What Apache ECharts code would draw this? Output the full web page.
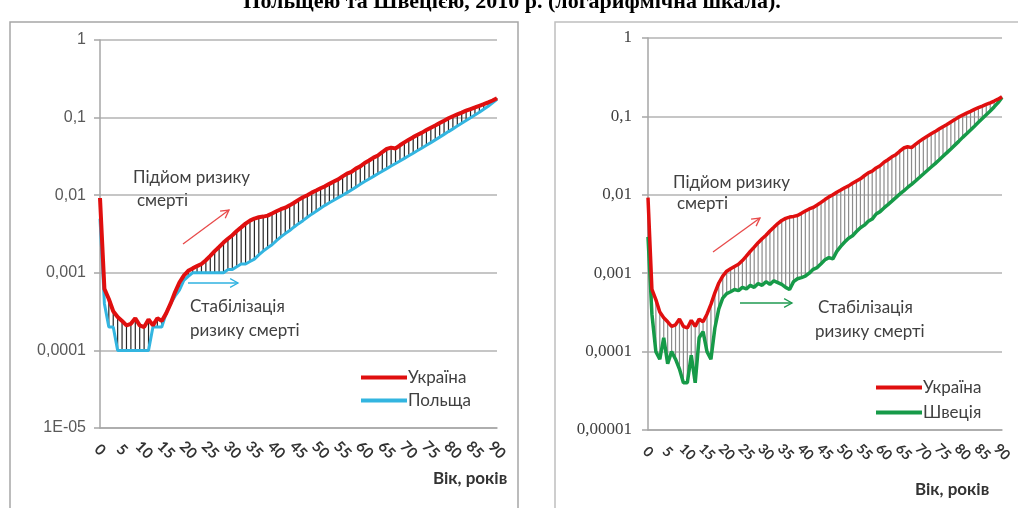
<!DOCTYPE html>
<html>
<head>
<meta charset="utf-8">
<script src="https://cdn.jsdelivr.net/npm/echarts@6/dist/echarts.min.js"></script>
<style>
  html, body { margin: 0; padding: 0; background: #fff; }
  #chart { width: 1018px; height: 508px; }
</style>
</head>
<body>
<div id="chart"></div>
<script>
// вік 0..90
var ages = []
for (var a = 0; a <= 90; a++) ages.push(String(a))

var ukraine = [
  0.0092, 0.00062, 0.00046, 0.00032, 0.00027, 0.00024, 0.00021, 0.00022, 0.00026, 0.00021,
  0.00020, 0.00025, 0.00021, 0.00026, 0.00024, 0.00030, 0.00040, 0.00056, 0.00075, 0.00092,
  0.00106, 0.00114, 0.00122, 0.00130, 0.00145, 0.00165, 0.00190, 0.00215, 0.00245, 0.00275,
  0.00305, 0.00345, 0.00385, 0.00430, 0.00470, 0.00500, 0.00520, 0.00530, 0.00545, 0.00580,
  0.0062, 0.0066, 0.0069, 0.0074, 0.0080, 0.0087, 0.0094, 0.0100, 0.0108, 0.0115,
  0.0123, 0.0130, 0.0140, 0.0150, 0.0160, 0.0175, 0.0190, 0.0200, 0.0220, 0.0235,
  0.0260, 0.0280, 0.0305, 0.0325, 0.0360, 0.0395, 0.0410, 0.0400, 0.0440, 0.0480,
  0.052, 0.056, 0.060, 0.064, 0.069, 0.074, 0.079, 0.085, 0.091, 0.098,
  0.104, 0.110, 0.116, 0.123, 0.129, 0.135, 0.142, 0.149, 0.157, 0.166,
  0.178
]

var poland = [
  0.0050, 0.0004, 0.0002, 0.0002, 0.0001, 0.0001, 0.0001, 0.0001, 0.0001, 0.0001,
  0.0001, 0.0001, 0.0002, 0.0002, 0.0002, 0.0003, 0.0004, 0.0005, 0.0006, 0.0008,
  0.0009, 0.0010, 0.0010, 0.0010, 0.0010, 0.0010, 0.0010, 0.0010, 0.0010, 0.0011,
  0.0011, 0.0012, 0.0013, 0.0013, 0.0014, 0.0015, 0.0017, 0.0019, 0.0021, 0.0023,
  0.0026, 0.0029, 0.0032, 0.0035, 0.0039, 0.0043, 0.0047, 0.0052, 0.0057, 0.0062,
  0.0068, 0.0074, 0.0080, 0.0086, 0.0093, 0.0100, 0.0108, 0.0117, 0.0127, 0.0138,
  0.0150, 0.0162, 0.0175, 0.0189, 0.0204, 0.0220, 0.0238, 0.0256, 0.0276, 0.0298,
  0.0322, 0.0348, 0.0376, 0.0406, 0.0440, 0.0476, 0.0516, 0.0560, 0.0608, 0.0660,
  0.0716, 0.0778, 0.0845, 0.0918, 0.0997, 0.108, 0.117, 0.128, 0.140, 0.155,
  0.172
]

var sweden = [
  0.0029, 0.00030, 0.00010, 0.00008, 0.00015, 0.00007, 0.00010, 0.00008, 0.00006, 0.00004,
  0.00004, 0.00009, 0.00004, 0.00015, 0.00018, 0.00010, 0.00008, 0.00020, 0.00035, 0.00048,
  0.00055, 0.00058, 0.00062, 0.00060, 0.00066, 0.00063, 0.00070, 0.00066, 0.00074, 0.00070,
  0.00078, 0.00072, 0.00080, 0.00076, 0.00072, 0.00066, 0.00062, 0.00078, 0.00085, 0.00088,
  0.00092, 0.00100, 0.00112, 0.00118, 0.00132, 0.00148, 0.00158, 0.00152, 0.00190, 0.00220,
  0.0025, 0.0028, 0.0030, 0.0034, 0.0038, 0.0041, 0.0046, 0.0049, 0.0057, 0.0061,
  0.0068, 0.0075, 0.0083, 0.0092, 0.0102, 0.0112, 0.0124, 0.0136, 0.0150, 0.0166,
  0.0184, 0.0204, 0.0226, 0.0250, 0.0278, 0.0310, 0.0345, 0.0385, 0.0430, 0.0480,
  0.054, 0.060, 0.067, 0.075, 0.084, 0.094, 0.105, 0.117, 0.132, 0.150,
  0.175
]

var leftTicks = ['1E-05', '0,0001', '0,001', '0,01', '0,1', '1']
var rightTicks = ['0,00001', '0,0001', '0,001', '0,01', '0,1', '1']

var chart = echarts.init(document.getElementById('chart'))

function tickLabel(list) {
  return function (v) {
    var i = Math.round(Math.log(v) / Math.LN10) + 5
    return list[i] || ''
  }
}

// вертикальні лінії між двома кривими
function hiLo(color) {
  return function (params, api) {
    var p1 = api.coord([api.value(0), api.value(1)])
    var p2 = api.coord([api.value(0), api.value(2)])
    return {
      type: 'line',
      shape: { x1: p1[0], y1: p1[1], x2: p2[0], y2: p2[1] },
      style: { stroke: color, lineWidth: 1.2 }
    }
  }
}

function pairs(a, b) {
  return a.map(function (v, i) {
    return [i, Math.min(v, b[i]), Math.max(v, b[i])]
  })
}

function arrow(x1, y1, x2, y2, color) {
  var ang = Math.atan2(y2 - y1, x2 - x1)
  var len = 9
  var h1 = [x2 - len * Math.cos(ang - 0.5), y2 - len * Math.sin(ang - 0.5)]
  var h2 = [x2 - len * Math.cos(ang + 0.5), y2 - len * Math.sin(ang + 0.5)]
  return [
    { type: 'line', shape: { x1: x1, y1: y1, x2: x2, y2: y2 }, style: { stroke: color, lineWidth: 1.3 } },
    { type: 'polyline', shape: { points: [h1, [x2, y2], h2] }, style: { stroke: color, lineWidth: 1.3, fill: null } }
  ]
}

function label(x, y, text) {
  return {
    type: 'text',
    x: x,
    y: y,
    style: {
      text: text,
      font: '17px Lato',
      fill: '#404040',
      verticalAlign: 'middle'
    }
  }
}

function xAxisFor(grid, size) {
  return {
    gridIndex: grid,
    type: 'category',
    data: ages,
    boundaryGap: false,
    axisLine: { lineStyle: { color: '#a6a6a6', width: 1.5 } },
    axisTick: { show: false },
    splitLine: { show: false },
    axisLabel: {
      interval: 4,
      rotate: -45,
      align: 'center',
      verticalAlign: 'middle',
      margin: 22,
      showMaxLabel: true,
      hideOverlap: false,
      color: '#333',
      fontWeight: 'bold',
      fontSize: size,
      fontFamily: 'Lato'
    }
  }
}

var yAxisBase = {
  type: 'log',
  logBase: 10,
  min: 0.00001,
  max: 1,
  axisLine: { show: true, lineStyle: { color: '#a6a6a6', width: 1.5 } },
  axisTick: { show: true, length: 6, lineStyle: { color: '#a6a6a6', width: 1.5 } },
  splitLine: { lineStyle: { color: '#b3b3b3', width: 1.5 } },
  minorTick: { show: false }
}

var graphics = [
  { type: 'rect', shape: { x: 10, y: 22, width: 508, height: 500 }, style: { fill: null, stroke: '#a6a6a6', lineWidth: 1.5 } },
  { type: 'rect', shape: { x: 555, y: 22, width: 480, height: 500 }, style: { fill: null, stroke: '#bfbfbf', lineWidth: 1.5 } },
  {
    type: 'text', x: 512, y: 2,
    style: {
      text: 'Польщею та Швецією, 2010 р. (логарифмічна шкала).',
      font: 'bold 22px "Liberation Serif"', fill: '#000', align: 'center', verticalAlign: 'middle'
    }
  },
  label(133, 178, 'Підйом ризику'),
  label(137, 201, 'смерті'),
  label(190, 307, 'Стабілізація'),
  label(190, 331, 'ризику смерті'),
  label(673, 183, 'Підйом ризику'),
  label(677, 204, 'смерті'),
  label(818, 308, 'Стабілізація'),
  label(815, 332, 'ризику смерті'),
  {
    type: 'text', x: 433, y: 479,
    style: { text: 'Вік, років', font: 'bold 17px Lato', fill: '#333', verticalAlign: 'middle' }
  },
  {
    type: 'text', x: 915, y: 490,
    style: { text: 'Вік, років', font: 'bold 17px Lato', fill: '#333', verticalAlign: 'middle' }
  }
]
graphics = graphics
  .concat(arrow(183, 244, 229, 210, '#e84a4a'))
  .concat(arrow(188, 283, 238, 283, '#2fb2e0'))
  .concat(arrow(713, 252, 760, 218, '#e84a4a'))
  .concat(arrow(740, 303, 792, 303, '#1f9a50'))

chart.setOption({
  animation: false,
  backgroundColor: '#fff',
  grid: [
    { left: 100, top: 40, width: 397, height: 388 },
    { left: 648, top: 38, width: 354, height: 392 }
  ],
  xAxis: [xAxisFor(0, 15), xAxisFor(1, 14)],
  yAxis: [
    Object.assign({ gridIndex: 0 }, yAxisBase, {
      axisLabel: { formatter: tickLabel(leftTicks), color: '#595959', fontSize: 16, fontFamily: 'Liberation Sans', margin: 14 }
    }),
    Object.assign({ gridIndex: 1 }, yAxisBase, {
      axisLabel: { formatter: tickLabel(rightTicks), color: '#404040', fontSize: 17, fontFamily: 'Liberation Serif', margin: 16 }
    })
  ],
  legend: [
    {
      left: 356, top: 364, orient: 'vertical', icon: 'rect', itemWidth: 46, itemHeight: 4, itemGap: 6,
      data: ['Україна', 'Польща'],
      textStyle: { fontSize: 17, color: '#404040', fontFamily: 'Lato', padding: [0, 0, 0, -4] }
    },
    {
      left: 871, top: 374, orient: 'vertical', icon: 'rect', itemWidth: 46, itemHeight: 4, itemGap: 8,
      data: ['Україна', 'Швеція'],
      textStyle: { fontSize: 17, color: '#404040', fontFamily: 'Lato', padding: [0, 0, 0, -4] }
    }
  ],
  series: [
    {
      type: 'custom', xAxisIndex: 0, yAxisIndex: 0, z: 1,
      renderItem: hiLo('#262626'),
      encode: { x: 0, y: [1, 2] },
      data: pairs(ukraine, poland)
    },
    {
      name: 'Польща', type: 'line', xAxisIndex: 0, yAxisIndex: 0, z: 2,
      data: poland, symbol: 'none', color: '#33b5e0',
      lineStyle: { width: 3, color: '#33b5e0' }
    },
    {
      name: 'Україна', type: 'line', xAxisIndex: 0, yAxisIndex: 0, z: 3,
      data: ukraine, symbol: 'none', color: '#e00f0f',
      lineStyle: { width: 4, color: '#e00f0f' }
    },
    {
      type: 'custom', xAxisIndex: 1, yAxisIndex: 1, z: 1,
      renderItem: hiLo('#8c8c8c'),
      encode: { x: 0, y: [1, 2] },
      data: pairs(ukraine, sweden)
    },
    {
      name: 'Швеція', type: 'line', xAxisIndex: 1, yAxisIndex: 1, z: 2,
      data: sweden, symbol: 'none', color: '#169a48',
      lineStyle: { width: 3.5, color: '#169a48' }
    },
    {
      name: 'Україна', type: 'line', xAxisIndex: 1, yAxisIndex: 1, z: 3,
      data: ukraine, symbol: 'none', color: '#e00f0f',
      lineStyle: { width: 3.5, color: '#e00f0f' }
    }
  ],
  graphic: graphics
})
</script>
</body>
</html>
